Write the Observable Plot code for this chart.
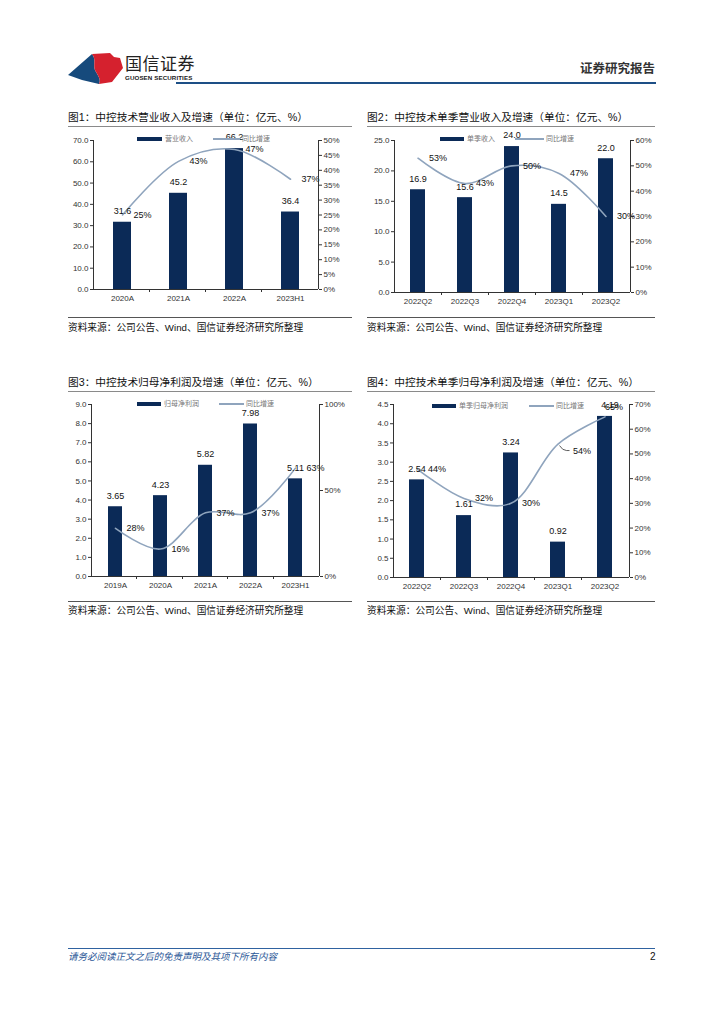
<!DOCTYPE html>
<html><head><meta charset="utf-8">
<script src="https://cdn.jsdelivr.net/npm/d3@7"></script>
<script src="https://cdn.jsdelivr.net/npm/@observablehq/plot@0.6"></script>
<style>
body{margin:0;width:724px;height:1024px;position:relative;background:#fff;font-family:"Liberation Sans","Noto Sans CJK SC",sans-serif;overflow:hidden;}
.abs{position:absolute;white-space:nowrap;line-height:1;}
.title{font-size:10.7px;color:#111;font-family:"Liberation Sans","Noto Sans CJK SC",sans-serif;}
.src{font-size:9.7px;color:#111;font-family:"Liberation Sans","Noto Sans CJK SC",sans-serif;}
.rule{position:absolute;height:0;}
.lg{font-size:7px;color:#777;font-family:"Noto Sans CJK SC",sans-serif;}
</style></head><body>
<script>
// ---------- data ----------
const cats1 = ["2020A", "2021A", "2022A", "2023H1"];
const rev1 = [31.6, 45.2, 66.2, 36.4];
const yoy1 = [25, 43, 47, 37];

const cats2 = ["2022Q2", "2022Q3", "2022Q4", "2023Q1", "2023Q2"];
const rev2 = [16.9, 15.6, 24.0, 14.5, 22.0];
const yoy2 = [53, 43, 50, 47, 30];

const cats3 = ["2019A", "2020A", "2021A", "2022A", "2023H1"];
const np3 = [3.65, 4.23, 5.82, 7.98, 5.11];
const yoy3 = [28, 16, 37, 37, 63];

const cats4 = ["2022Q2", "2022Q3", "2022Q4", "2023Q1", "2023Q2"];
const np4 = [2.54, 1.61, 3.24, 0.92, 4.19];
const yoy4 = [44, 32, 30, 54, 65];

const leftTicks1 = [0, 10, 20, 30, 40, 50, 60, 70];
const rightTicks1 = [0, 5, 10, 15, 20, 25, 30, 35, 40, 45, 50];
const leftTicks2 = [0, 5, 10, 15, 20, 25];
const rightTicks2 = [0, 10, 20, 30, 40, 50, 60];
const leftTicks3 = [0, 1, 2, 3, 4, 5, 6, 7, 8, 9];
const rightTicks3 = [0, 50, 100];
const leftTicks4 = [0, 0.5, 1, 1.5, 2, 2.5, 3, 3.5, 4, 4.5];
const rightTicks4 = [0, 10, 20, 30, 40, 50, 60, 70];

const BAR = "#0b2a57";
const LINE = "#8fa4bd";
const AX = "#333";

function el(tag, cls, css, html) {
  const e = document.createElement(tag);
  if (cls) e.className = cls;
  Object.assign(e.style, css);
  if (html != null) e.innerHTML = html;
  document.body.appendChild(e);
  return e;
}
function hline(x1, x2, y, color, w) {
  el("div", "rule", {left: x1 + "px", top: (y - w / 2) + "px", width: (x2 - x1) + "px", borderTop: w + "px solid " + color});
}

function chart(o) {
  const k = o.yMax / o.pctMax;
  const data = o.cats.map((c, i) => ({i, c, v: o.vals[i], p: o.yoy[i], ps: o.yoy[i] * k}));
  const sp = o.special || {};
  const normal = data.filter(d => !sp[d.i]);
  const marks = [
    Plot.barY(data, {x: "c", y: "v", fill: BAR}),
    Plot.line(data, {x: "c", y: "ps", stroke: LINE, strokeWidth: 1.6, curve: "catmull-rom"}),
    Plot.text(data.filter(d => !(sp[d.i] && sp[d.i].barDx)), {x: "c", y: "v", text: d => d.v.toFixed(o.dec), dy: -11, fontSize: 9, fill: "#111"}),
    Plot.text(normal, {x: "c", y: "ps", text: d => d.p + "%", dx: 20, fontSize: 9, fill: "#111"}),
    Plot.axisY({anchor: "left", ticks: o.leftTicks, tickFormat: d3.format(".1f"), tickSize: 3, tickPadding: 2, stroke: AX, fill: "#333"}),
    Plot.axisY({anchor: "right", ticks: o.rightTicks.map(t => t * k), tickFormat: t => Math.round(t / k) + "%", tickSize: 3, tickPadding: 2, stroke: AX, fill: "#333"}),
    Plot.axisX({tickSize: 0, tickPadding: 6, fill: "#333"}),
    Plot.ruleY([0], {stroke: AX})
  ];
  for (const key in sp) {
    const s = sp[key];
    const d = data.filter(r => r.i === +key);
    marks.push(Plot.text(d, {x: "c", y: "ps", text: r => r.p + "%", dx: s.dx, dy: s.dy, fontSize: 9, fill: "#111"}));
    if (s.barDx) marks.push(Plot.text(d, {x: "c", y: "v", text: r => r.v.toFixed(o.dec), dx: s.barDx, dy: -11, fontSize: 9, fill: "#111"}));
  }
  const fig = Plot.plot({
    width: o.width, height: o.height,
    marginLeft: o.mL, marginRight: o.mR, marginTop: o.mT, marginBottom: o.mB,
    style: {fontFamily: "'Liberation Sans', Arial, sans-serif", fontSize: "8px", background: "transparent", overflow: "visible"},
    x: {domain: o.cats, paddingInner: 0.68, paddingOuter: 0.34, label: null},
    y: {domain: [0, o.yMax], label: null},
    marks
  });
  const svg = d3.select(fig);
  const X = fig.scale("x"), Y = fig.scale("y");
  const xr = X.range;
  const yr = Y.range;
  const g = svg.append("g").attr("stroke", AX).attr("stroke-width", 1).attr("shape-rendering", "crispEdges");
  g.append("line").attr("x1", xr[0]).attr("x2", xr[0]).attr("y1", yr[0]).attr("y2", yr[1]);
  g.append("line").attr("x1", xr[1]).attr("x2", xr[1]).attr("y1", yr[0]).attr("y2", yr[1]);
  const n = o.cats.length;
  for (let i = 1; i < n; i++) {
    const x = xr[0] + i * (xr[1] - xr[0]) / n;
    g.append("line").attr("x1", x).attr("x2", x).attr("y1", yr[0]).attr("y2", yr[0] + 3);
  }
  // leader line for labels that carry one
  for (const key in sp) {
    if (!sp[key].leader) continue;
    const d = data[+key];
    const px = X.apply(d.c) + (X.bandwidth || 0) / 2;
    const py = Y.apply(d.ps);
    svg.append("path")
      .attr("d", `M${px + 2},${py + 2} Q${px + 5},${py + 7} ${px + 9},${py + 7} L${px + 12},${py + 7}`)
      .attr("fill", "none").attr("stroke", "#333").attr("stroke-width", 0.8);
  }
  fig.style.position = "absolute";
  fig.style.left = o.left + "px";
  fig.style.top = o.top + "px";
  document.body.appendChild(fig);
}

function legend(y, rx, rw, t1, lx, lw, t2) {
  el("div", "", {position: "absolute", left: rx + "px", top: (y - 2) + "px", width: rw + "px", height: "4px", background: BAR});
  el("div", "abs lg", {left: (rx + rw + 3) + "px", top: (y - 4) + "px"}, t1);
  el("div", "", {position: "absolute", left: lx + "px", top: (y - 0.75) + "px", width: lw + "px", height: "1.5px", background: LINE});
  el("div", "abs lg", {left: (lx + lw + 2) + "px", top: (y - 4) + "px"}, t2);
}

// ---------- header ----------
el("div", "abs", {left: "0px", top: "0px"}, `
<svg width="200" height="90" style="position:absolute;left:0;top:0">
  <path d="M68,75 L92,54 C97,60 92,66 96,72 C99,77 101,80 99,84 L82,80 Z" fill="#164a7c"/>
  <path d="M92,54 L110,53 L114,57 L120,58 L123,68 L112,82 L99,84 C101,80 99,77 96,72 C92,66 97,60 92,54 Z" fill="#d5212e"/>
</svg>`);
el("div", "abs", {left: "125px", top: "54px", fontSize: "17px", color: "#222", fontFamily: "'Noto Sans CJK SC'", letterSpacing: "0.5px"}, "国信证券");
el("div", "abs", {left: "125px", top: "75px", fontSize: "6.2px", color: "#222", fontWeight: "bold", letterSpacing: "0.1px"}, "GUOSEN SECURITIES");
el("div", "abs", {left: "580px", top: "62px", fontSize: "12.5px", color: "#333", fontWeight: "bold", fontFamily: "'Noto Sans CJK SC'"}, "证券研究报告");
hline(176, 656, 83, "#1d4f86", 2);

// ---------- titles / rules / sources ----------
el("div", "abs title", {left: "68px", top: "112px"}, "图1：中控技术营业收入及增速（单位：亿元、%）");
el("div", "abs title", {left: "367px", top: "112px"}, "图2：中控技术单季营业收入及增速（单位：亿元、%）");
el("div", "abs title", {left: "68px", top: "377px"}, "图3：中控技术归母净利润及增速（单位：亿元、%）");
el("div", "abs title", {left: "367px", top: "377px"}, "图4：中控技术单季归母净利润及增速（单位：亿元、%）");
hline(68, 352, 127, "#8a8a8a", 1.5);
hline(367, 655, 127, "#8a8a8a", 1.5);
hline(68, 352, 392, "#8a8a8a", 1.5);
hline(367, 655, 392, "#8a8a8a", 1.5);
hline(68, 352, 318, "#555", 1.5);
hline(367, 655, 318, "#555", 1.5);
hline(68, 352, 602, "#555", 1.5);
hline(367, 655, 602, "#555", 1.5);
const SRC = "资料来源：公司公告、Wind、国信证券经济研究所整理";
el("div", "abs src", {left: "68px", top: "323px"}, SRC);
el("div", "abs src", {left: "367px", top: "323px"}, SRC);
el("div", "abs src", {left: "68px", top: "606px"}, SRC);
el("div", "abs src", {left: "367px", top: "606px"}, SRC);

// ---------- charts ----------
chart({cats: cats1, vals: rev1, yoy: yoy1, yMax: 70, pctMax: 50, leftTicks: leftTicks1, rightTicks: rightTicks1, dec: 1,
  left: 60, top: 130, width: 300, height: 180, mL: 33, mR: 42, mT: 10, mB: 21});
chart({cats: cats2, vals: rev2, yoy: yoy2, yMax: 25, pctMax: 60, leftTicks: leftTicks2, rightTicks: rightTicks2, dec: 1,
  left: 362, top: 130, width: 300, height: 183, mL: 32, mR: 32, mT: 10, mB: 21});
chart({cats: cats3, vals: np3, yoy: yoy3, yMax: 9, pctMax: 100, leftTicks: leftTicks3, rightTicks: rightTicks3, dec: 2,
  left: 60, top: 394, width: 300, height: 203, mL: 31, mR: 41, mT: 10, mB: 21});
chart({cats: cats4, vals: np4, yoy: yoy4, yMax: 4.5, pctMax: 70, leftTicks: leftTicks4, rightTicks: rightTicks4, dec: 2,
  left: 362, top: 394, width: 300, height: 204, mL: 31, mR: 33, mT: 10, mB: 21,
  special: {3: {dx: 24, dy: 7, leader: true}, 4: {dx: 9, dy: -10, barDx: 5}}});

legend(139, 137, 25, "营业收入", 213, 27, "同比增速");
legend(139, 440, 24, "单季收入", 515, 29, "同比增速");
legend(404, 137, 24, "归母净利润", 219, 25, "同比增速");
legend(406, 432, 24, "单季归母净利润", 529, 25, "同比增速");

// ---------- footer ----------
hline(68, 655, 948, "#2f62a0", 1);
el("div", "abs", {left: "68px", top: "952px", fontSize: "9.5px", color: "#2b5797", fontStyle: "italic", fontFamily: "'Noto Sans CJK SC'"}, "请务必阅读正文之后的免责声明及其项下所有内容");
el("div", "abs", {left: "650px", top: "952px", fontSize: "10px", color: "#111"}, "2");
</script>
</body></html>
